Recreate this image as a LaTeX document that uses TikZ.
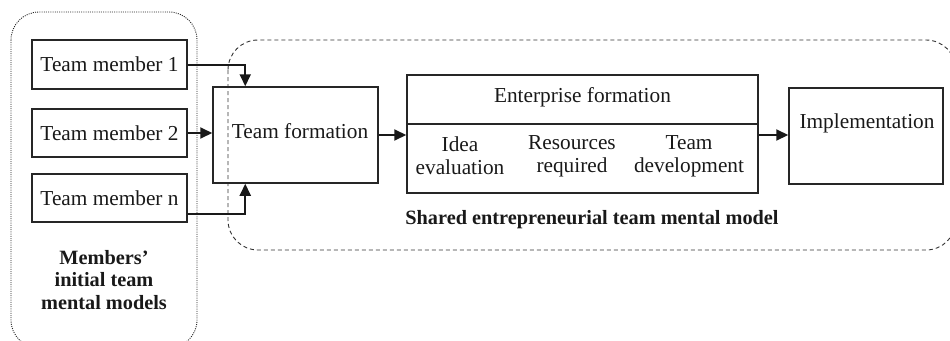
\documentclass[tikz,border=0pt]{standalone}
\usepackage{fontspec}
\setmainfont{Liberation Serif}
\usetikzlibrary{arrows.meta}
\begin{document}
\begin{tikzpicture}[x=1pt,y=-1pt,
  box/.style={draw=black!85,line width=1.5pt,rectangle,inner sep=0pt,minimum width=#1},
  txt/.style={font=\fontsize{21.3}{23}\selectfont,align=center,inner sep=0pt,text=black!90},
  btxt/.style={font=\fontsize{20.3}{22.5}\selectfont\bfseries,align=center,inner sep=0pt,text=black!90},
  arr/.style={line width=2pt,draw=black!90,-{Triangle[length=12pt,width=11pt]}},
  dotbox/.style={draw=black!85,line width=0.9pt,dash pattern=on 1pt off 1.2pt,rounded corners=28pt},
  dashbox/.style={draw=black!80,line width=0.9pt,dash pattern=on 4pt off 3pt,rounded corners=30pt}]
\useasboundingbox (0,0) rectangle (950,340);
% grouping outlines
\path[dotbox] (11,12) rectangle (197,348);
\path[dashbox] (228,40) rectangle (956,250);
% member boxes
\node[box=155pt,minimum height=49pt,txt] (m1) at (109.5,64.5) {Team member 1};
\node[box=155pt,minimum height=48pt,txt] (m2) at (109.5,133) {Team member 2};
\node[box=155pt,minimum height=48pt,txt] (mn) at (109.5,198) {Team member n};
% team formation
\node[box=165pt,minimum height=96pt] (tf) at (295.5,135) {};
\node[txt] (tft) at (300,131) {Team formation};
% enterprise formation
\node[box=351pt,minimum height=49pt] (ef) at (582.5,99.5) {};
\node[txt] (eft) at (582.5,97) {Enterprise formation};
\node[box=351pt,minimum height=69pt] (efb) at (582.5,158.5) {};
\node[txt] (ie) at (460,156) {Idea\\evaluation};
\node[txt] (rr) at (572,156) {Resources\\required};
\node[txt] (td) at (689,156) {Team\\development};
% implementation
\node[box=154pt,minimum height=96pt] (im) at (866,136) {};
\node[txt] (imt) at (867,123) {Implementation};
% captions
\node[btxt] (shared) at (592,220) {Shared entrepreneurial team mental model};
\node[btxt] (members) at (104,280) {Members'\\initial team\\mental models};
% connectors
\draw[arr] (m1.east) -| ([xshift=33pt]tf.north west);
\draw[arr] (m2.east) -- (m2.east -| tf.west);
\draw[arr] ([yshift=-16pt]mn.east) -| ([xshift=33pt]tf.south west);
\draw[arr] (tf.east) -- (tf.east -| efb.west);
\draw[arr] (tf.east -| efb.east) -- (tf.east -| im.west);
\end{tikzpicture}
\end{document}
